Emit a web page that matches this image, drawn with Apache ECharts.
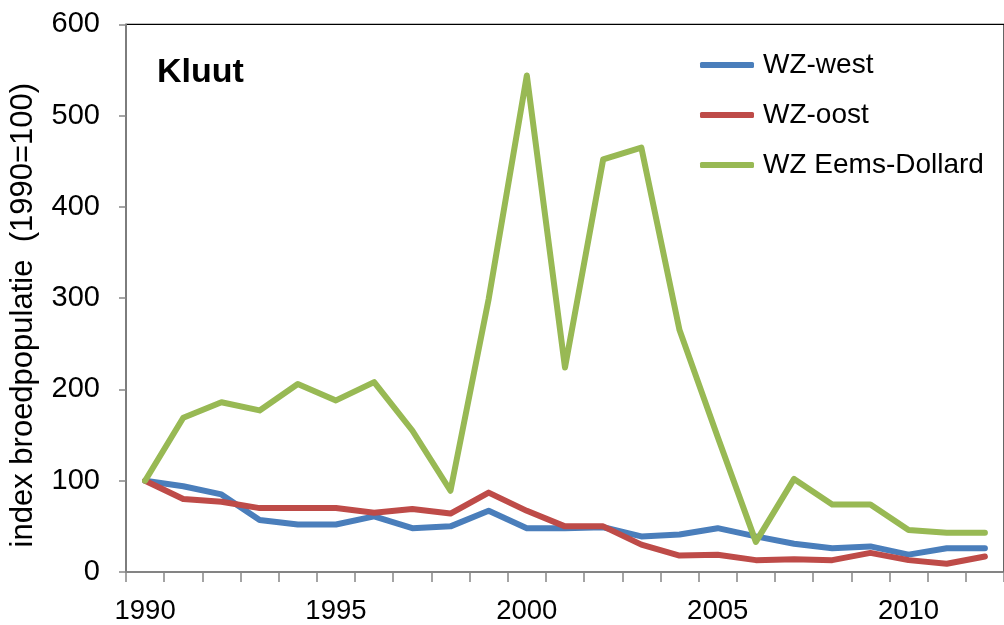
<!DOCTYPE html>
<html>
<head>
<meta charset="utf-8">
<script src="https://cdn.jsdelivr.net/npm/echarts@6/dist/echarts.min.js"></script>
<style>
html,body{margin:0;padding:0;background:#fff;}
#chart{width:1004px;height:625px;}
</style>
</head>
<body>
<div id="chart"></div>
<script>
const years = ['1990','1991','1992','1993','1994','1995','1996','1997','1998','1999','2000','2001','2002','2003','2004','2005','2006','2007','2008','2009','2010','2011','2012'];
const wzWest = [100, 94, 85, 57, 52, 52, 61, 48, 50, 67, 48, 48, 49, 39, 41, 48, 39, 31, 26, 28, 19, 26, 26];
const wzOost = [100, 80, 77, 70, 70, 70, 65, 69, 64, 87, 67, 50, 50, 30, 18, 19, 13, 14, 13, 21, 13, 9, 17];
const wzEemsDollard = [100, 169, 186, 177, 206, 188, 208, 155, 89, 299, 544, 224, 452, 465, 265, 148, 33, 102, 74, 74, 46, 43, 43];
const seriesNames = ['WZ-west', 'WZ-oost', 'WZ Eems-Dollard'];
const yTicks = [0, 600, 100];

const FONT = '"Liberation Sans", Arial, sans-serif';
const chart = echarts.init(document.getElementById('chart'), null, {renderer: 'canvas'});
const mk = (name, data, color) => ({
  name, type: 'line', data, symbol: 'none', smooth: false,
  lineStyle: {color, width: 6, cap: 'round', join: 'round'},
  itemStyle: {color}
});
chart.setOption({
  animation: false,
  backgroundColor: '#fff',
  title: {
    text: 'Kluut', left: 152, top: 51,
    textStyle: {fontFamily: FONT, fontSize: 34, fontWeight: 'bold', color: '#000'}
  },
  legend: {
    orient: 'vertical', left: 700, top: 51, itemGap: 22, padding: 0,
    itemWidth: 54, itemHeight: 6, icon: 'roundRect',
    textStyle: {fontFamily: FONT, fontSize: 28, color: '#000', padding: [0, 0, 0, 4]},
    data: seriesNames
  },
  grid: {
    left: 123.3, top: 24.3, width: 890, height: 550,
    show: true, borderColor: '#000', borderWidth: 1.2, backgroundColor: 'transparent'
  },
  xAxis: {
    type: 'category', data: years, boundaryGap: true,
    axisLine: {lineStyle: {color: '#868686', width: 1.5}},
    axisTick: {show: true, interval: 0, length: 10, lineStyle: {color: '#868686', width: 1.5}},
    axisLabel: {interval: 4, margin: 25, fontFamily: FONT, fontSize: 27.5, color: '#000'},
    splitLine: {show: false}
  },
  yAxis: {
    type: 'value', min: yTicks[0], max: yTicks[1], interval: yTicks[2],
    name: 'index broedpopulatie  (1990=100)', nameLocation: 'middle', nameGap: 87,
    nameTextStyle: {fontFamily: FONT, fontSize: 31, color: '#000', padding: [0, 34, 0, 0]},
    axisLine: {show: true, lineStyle: {color: '#868686', width: 1.5}},
    axisTick: {show: true, length: 7, lineStyle: {color: '#868686', width: 1.5}},
    axisLabel: {margin: 26, fontFamily: FONT, fontSize: 29, color: '#000'},
    splitLine: {show: false}
  },
  series: [
    mk(seriesNames[0], wzWest, '#4A7EBB'),
    mk(seriesNames[1], wzOost, '#BE4B48'),
    mk(seriesNames[2], wzEemsDollard, '#98B954')
  ]
});
</script>
</body>
</html>
